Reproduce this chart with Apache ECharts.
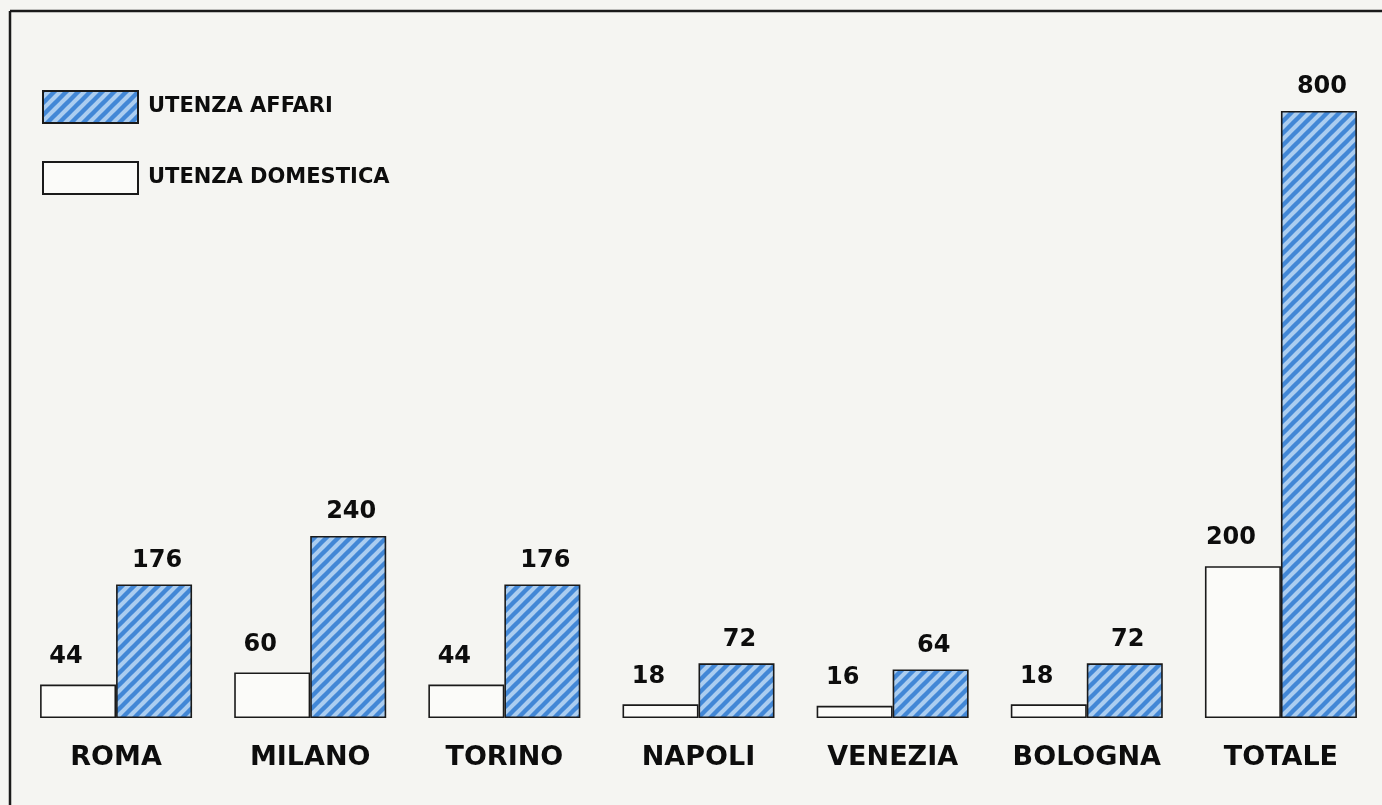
<!DOCTYPE html>
<html>
<head>
<meta charset="utf-8">
<script src="https://cdn.jsdelivr.net/npm/echarts@6/dist/echarts.min.js"></script>
<style>
html,body{margin:0;padding:0;background:#f5f5f2;}
#chart{width:1382px;height:805px;}
</style>
</head>
<body>
<div id="chart"></div>
<script>
const categories = ['ROMA', 'MILANO', 'TORINO', 'NAPOLI', 'VENEZIA', 'BOLOGNA', 'TOTALE'];
const domestica = [44, 60, 44, 18, 16, 18, 200];
const affari = [176, 240, 176, 72, 64, 72, 800];
const seriesNames = ['UTENZA DOMESTICA', 'UTENZA AFFARI'];

function hatch() {
  const s = 12;
  const c = document.createElement('canvas');
  c.width = s; c.height = s;
  const g = c.getContext('2d');
  g.fillStyle = '#abcdf0';
  g.fillRect(0, 0, s, s);
  g.strokeStyle = '#4287d6';
  g.lineWidth = 4.4;
  g.lineCap = 'square';
  [[-2, s + 2, s + 2, -2], [-2, 2, 2, -2], [s - 2, s + 2, s + 2, s - 2]].forEach(l => {
    g.beginPath(); g.moveTo(l[0], l[1]); g.lineTo(l[2], l[3]); g.stroke();
  });
  return c;
}

const FONT = 'DejaVu Sans';
const chart = echarts.init(document.getElementById('chart'), null, {renderer: 'canvas'});
chart.setOption({
  backgroundColor: '#f5f5f2',
  animation: false,
  legend: {
    data: [seriesNames[1], seriesNames[0]],
    orient: 'vertical',
    left: 42, top: 90, padding: 0,
    itemWidth: 95, itemHeight: 32,
    itemGap: 37,
    icon: 'rect',
    textStyle: {fontFamily: FONT, fontWeight: 'bold', fontSize: 21, color: '#0d0d0d', padding: [0, 0, 0, 5]}
  },
  grid: {left: 19, right: 4, top: 111, bottom: 87, containLabel: false},
  xAxis: {
    type: 'category', data: categories,
    axisLine: {show: false}, axisTick: {show: false},
    axisLabel: {margin: 26, fontFamily: FONT, fontWeight: 'bold', fontSize: 27, color: '#0d0d0d'}
  },
  yAxis: {type: 'value', min: 0, max: 800, show: false, splitLine: {show: false}},
  graphic: [
    {type: 'line', shape: {x1: 10, y1: 11, x2: 1382, y2: 11}, style: {stroke: '#1a1a1a', lineWidth: 2.5}, silent: true},
    {type: 'line', shape: {x1: 10, y1: 11, x2: 10, y2: 805}, style: {stroke: '#1a1a1a', lineWidth: 2.5}, silent: true}
  ],
  series: [
    {
      name: seriesNames[0], type: 'bar', data: domestica,
      barWidth: 76, barGap: '0%',
      itemStyle: {color: '#fbfbf9', borderColor: '#1a1a1a', borderWidth: 1.6},
      label: {show: true, position: 'top', distance: 16, offset: [-12, 0], fontFamily: FONT, fontWeight: 'bold', fontSize: 24, color: '#0d0d0d'}
    },
    {
      name: seriesNames[1], type: 'bar', data: affari,
      barWidth: 76,
      itemStyle: {color: {image: hatch(), repeat: 'repeat'}, borderColor: '#1a1a1a', borderWidth: 1.6},
      label: {show: true, position: 'top', distance: 12, offset: [3, 0], fontFamily: FONT, fontWeight: 'bold', fontSize: 24, color: '#0d0d0d'}
    }
  ]
});
</script>
</body>
</html>
